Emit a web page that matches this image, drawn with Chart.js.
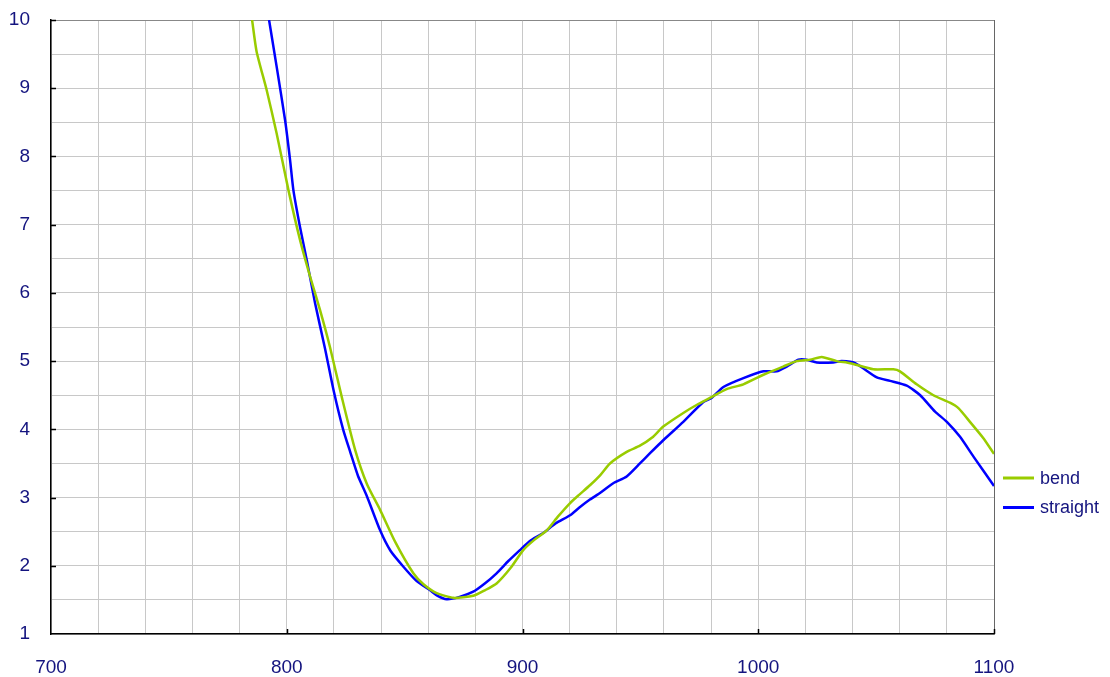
<!DOCTYPE html>
<html>
<head>
<meta charset="utf-8">
<script src="https://cdn.jsdelivr.net/npm/chart.js@4"></script>
<style>
  body { margin: 0; background: #fff; }
  #wrap { width: 1110px; height: 677px; }
</style>
</head>
<body>
<div id="wrap"><canvas id="spectrum"></canvas></div>
<script>
// values
const bendX = [785.3, 787.2, 791.5, 795.7, 800.7, 805.6, 809.9, 814.1, 818.3, 823.5, 829, 834, 839.6, 846, 853.7, 858, 863.6, 870.7, 879.1, 884, 889, 895, 900.3, 905, 910.3, 915, 920.2, 924, 928.6, 933, 937.1, 944.2, 949.8, 955, 959.7, 968.2, 974, 979.5, 986.6, 993.7, 1002.2, 1010.6, 1016.3, 1022, 1026.9, 1033.3, 1039, 1048.8, 1057.3, 1060.1, 1067.2, 1074.3, 1081.3, 1084.9, 1089.8, 1095.5, 1100];
const bendY = [10.0, 9.54, 8.97, 8.34, 7.51, 6.78, 6.24, 5.75, 5.21, 4.45, 3.70, 3.20, 2.82, 2.35, 1.89, 1.73, 1.60, 1.53, 1.56, 1.64, 1.74, 1.97, 2.23, 2.38, 2.52, 2.72, 2.92, 3.04, 3.18, 3.33, 3.50, 3.67, 3.76, 3.88, 4.04, 4.24, 4.36, 4.46, 4.59, 4.66, 4.80, 4.92, 5.00, 5.02, 5.06, 5.00, 4.97, 4.88, 4.88, 4.85, 4.66, 4.50, 4.39, 4.31, 4.11, 3.87, 3.64];

const straightX = [792.5, 795.7, 799.3, 801.4, 802.8, 805.6, 808.5, 812, 816.2, 820, 823.9, 827, 830.2, 834, 839.6, 844, 849.4, 855, 860.8, 864, 867.8, 873, 879.1, 884, 889, 894, 898.9, 903, 908.8, 914, 920.2, 924, 928.6, 933, 938.5, 944.2, 949.8, 954.1, 959.7, 968.2, 976.7, 980.2, 985.2, 993.7, 1002.2, 1007.8, 1012.1, 1017, 1020.5, 1024.8, 1031.8, 1035.4, 1041.1, 1050.3, 1055.9, 1063, 1068.7, 1075, 1080, 1085.6, 1091.3, 1100];
const straightY = [10.0, 9.32, 8.53, 7.95, 7.51, 6.97, 6.48, 5.85, 5.19, 4.55, 4.00, 3.66, 3.32, 3.02, 2.52, 2.22, 1.99, 1.78, 1.64, 1.56, 1.51, 1.54, 1.62, 1.74, 1.89, 2.07, 2.23, 2.36, 2.48, 2.62, 2.74, 2.85, 2.97, 3.07, 3.21, 3.31, 3.50, 3.65, 3.84, 4.11, 4.40, 4.46, 4.62, 4.75, 4.85, 4.85, 4.92, 5.02, 5.02, 4.98, 4.98, 5.00, 4.97, 4.76, 4.71, 4.64, 4.50, 4.26, 4.11, 3.89, 3.60, 3.17];

const seriesNames = ["bend", "straight"];
const seriesColors = ["#99cc00", "#0000ff"];

const textColor = "#14147f";
const fontFamily = "'Liberation Sans', Arial, sans-serif";

function toPoints(xs, ys) {
  return xs.map((x, i) => ({ x: x, y: ys[i] }));
}

// legend to the right of the plot, drawn from the datasets
const sideLegend = {
  id: "sideLegend",
  afterDraw(chart) {
    const c = chart.ctx;
    const area = chart.chartArea;
    c.save();
    c.font = "18px " + fontFamily;
    c.textBaseline = "middle";
    chart.data.datasets.forEach((ds, i) => {
      const y = 478 + i * 29.5;
      c.strokeStyle = ds.borderColor;
      c.lineWidth = 3;
      c.beginPath();
      c.moveTo(area.right + 9, y);
      c.lineTo(area.right + 40, y);
      c.stroke();
      c.fillStyle = textColor;
      c.fillText(ds.label, area.right + 46, y + 1);
    });

    // small inward tick marks
    const xs = chart.scales.x;
    const ys = chart.scales.y;
    c.strokeStyle = "#000";
    c.lineWidth = 1.5;
    c.beginPath();
    for (let v = 2; v <= 10; v++) {
      const py = Math.round(ys.getPixelForValue(v)) + 0.5;
      c.moveTo(area.left, py);
      c.lineTo(area.left + 5, py);
    }
    for (let v = 800; v <= 1100; v += 100) {
      const px = Math.round(xs.getPixelForValue(v)) + 0.5;
      c.moveTo(px, area.bottom);
      c.lineTo(px, area.bottom - 5);
    }
    c.stroke();
    c.restore();
  },
};

const config = {
  type: "line",
  data: {
    datasets: [
      {
        label: seriesNames[0],
        data: toPoints(bendX, bendY),
        borderColor: seriesColors[0],
        backgroundColor: seriesColors[0],
        borderWidth: 2.5,
        pointRadius: 0,
        tension: 0.2,
        fill: false,
      },
      {
        label: seriesNames[1],
        data: toPoints(straightX, straightY),
        borderColor: seriesColors[1],
        backgroundColor: seriesColors[1],
        borderWidth: 2.5,
        pointRadius: 0,
        tension: 0.2,
        fill: false,
      },
    ],
  },
  options: {
    responsive: true,
    maintainAspectRatio: false,
    animation: false,
    layout: {
      padding: { top: 20, right: 116, left: 0, bottom: 0 },
    },
    plugins: {
      legend: { display: false },
      tooltip: { enabled: false },
    },
    scales: {
      x: {
        type: "linear",
        min: 700,
        max: 1100,
        afterFit: (scale) => {
          scale.height = 43;
          scale.paddingLeft = 0;
          scale.paddingRight = 0;
        },
        border: { color: "#000", width: 1.5 },
        grid: {
          drawTicks: false,
          lineWidth: 1,
          color: (ctx) => (ctx.tick && ctx.tick.value === 1100 ? "#666" : "#c8c8c8"),
        },
        ticks: {
          stepSize: 20,
          padding: 22,
          maxRotation: 0,
          autoSkip: false,
          color: textColor,
          font: { family: fontFamily, size: 19 },
          callback: (v) => (v % 100 === 0 ? v : ""),
        },
      },
      y: {
        min: 1,
        max: 10,
        afterFit: (scale) => {
          scale.width = 51;
          scale.paddingTop = 0;
          scale.paddingBottom = 0;
        },
        border: { color: "#000", width: 1.5 },
        grid: {
          drawTicks: false,
          lineWidth: 1,
          color: (ctx) => (ctx.tick && ctx.tick.value === 10 ? "#888" : "#c8c8c8"),
        },
        ticks: {
          stepSize: 0.5,
          padding: 21,
          autoSkip: false,
          color: textColor,
          font: { family: fontFamily, size: 19 },
          callback: (v) => (Number.isInteger(v) ? v : ""),
        },
      },
    },
  },
  plugins: [sideLegend],
};

new Chart(document.getElementById("spectrum"), config);
</script>
</body>
</html>
